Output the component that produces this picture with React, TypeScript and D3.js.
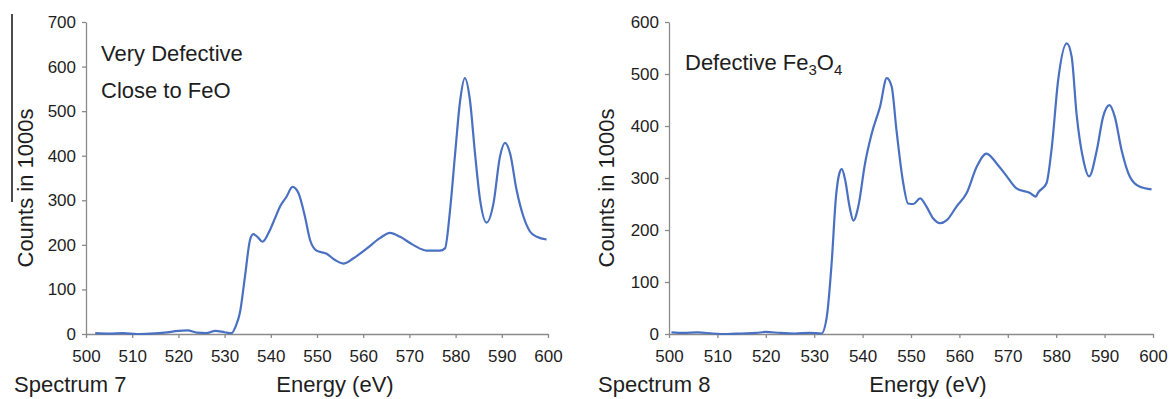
import React, { useEffect, useRef } from 'react'
import * as d3 from 'd3'

// energy (eV), counts in 1000s
const spectrum7: [number, number][] = [
  [502, 2], [505, 1], [508, 2], [511, 0], [514, 1], [517, 3], [520, 7], [522, 8], [524, 3],
  [526, 2], [528, 7], [530, 4], [531.5, 2], [532.5, 20], [533.3, 47], [534.4, 128], [535.5, 211],
  [536.2, 224], [537.1, 218], [538.2, 207], [539.8, 233], [541, 262], [542, 286], [543.4, 308], [544.7, 330],
  [546, 316], [547.4, 263], [548.5, 211], [549.9, 187], [552.1, 180], [553.9, 166], [555.7, 158],
  [557.9, 170], [560.8, 192], [563.6, 215], [565.8, 227], [568, 218], [570.8, 200], [573.7, 187],
  [576.6, 187], [577.7, 192], [578.8, 278], [579.9, 405], [581, 525], [582, 574], [583.1, 525],
  [584.2, 405], [585.3, 301], [586.7, 250], [588.2, 293], [589.6, 398], [590.7, 429], [591.8, 405],
  [593.2, 323], [594.7, 263], [596.1, 230], [597.6, 218], [599.7, 212]
]

const spectrum8: [number, number][] = [
  [500.5, 3], [503, 2], [506, 3], [509, 1], [512, 0], [515, 1], [518, 2], [520, 4], [523, 2],
  [526, 1], [529, 2], [531.5, 1], [532.6, 33], [533.6, 136], [534.5, 264], [535.2, 309],
  [535.7, 317], [536.4, 296], [537.3, 245], [538.1, 218], [539.1, 245], [540.5, 328], [541.9, 386],
  [543.6, 437], [545, 492], [546, 476], [547, 392], [548.4, 290], [549.4, 251], [550.5, 250],
  [551.9, 261], [553.2, 245], [554.6, 222], [556, 213], [557.4, 219], [559.4, 245], [561.5, 271],
  [563.6, 322], [565.6, 347], [567.7, 328], [569.8, 303], [571.8, 280], [574.6, 271], [575.8, 264],
  [576.2, 271], [578, 290], [579.1, 360], [580.4, 488], [582.2, 559], [583.2, 533], [584.2, 424],
  [585.6, 335], [586.8, 303], [588.4, 354], [589.7, 418], [591, 440], [592.1, 418], [593.5, 354],
  [595.2, 303], [597.3, 283], [599.7, 278]
]

const xTicks = [500, 510, 520, 530, 540, 550, 560, 570, 580, 590, 600]
const yTicks7 = [0, 100, 200, 300, 400, 500, 600, 700]
const yTicks8 = [0, 100, 200, 300, 400, 500, 600]

const FONT = '"Liberation Sans", Arial, sans-serif'
const LINE = '#4a70c2'
const AXIS = '#8a8a8a'

const App = () => {
  const svgRef = useRef<SVGSVGElement>(null)

  useEffect(() => {
    const svg = d3.select(svgRef.current)
    svg.selectAll('*').remove()

    const panels = [
      { data: spectrum7, yTicks: yTicks7, yMax: 700, x0: 86, x1: 548, ylab: 33, name: 'Spectrum 7', nameX: 14, energyX: 335 },
      { data: spectrum8, yTicks: yTicks8, yMax: 600, x0: 669, x1: 1153, ylab: 614, name: 'Spectrum 8', nameX: 598, energyX: 928 }
    ]

    panels.forEach(p => {
      const x = d3.scaleLinear().domain([500, 600]).range([p.x0, p.x1])
      const y = d3.scaleLinear().domain([0, p.yMax]).range([334, 22])
      const g = svg.append('g')

      const xAxis = g.append('g')
        .attr('transform', 'translate(0,334)')
        .call(d3.axisBottom(x).tickValues(xTicks).tickSize(4).tickSizeOuter(0).tickPadding(12))
      const yAxis = g.append('g')
        .attr('transform', `translate(${p.x0},0)`)
        .call(d3.axisLeft(y).tickValues(p.yTicks).tickSize(4).tickSizeOuter(0).tickPadding(6))

      ;[xAxis, yAxis].forEach(a => {
        a.select('.domain').attr('stroke', AXIS).attr('stroke-width', 1.3)
        a.selectAll('.tick line').attr('stroke', AXIS).attr('stroke-width', 1.3)
        a.selectAll('.tick text').attr('fill', '#1e1e1e').style('font-size', '17px').style('font-family', FONT)
      })

      const line = d3.line<[number, number]>()
        .x(d => x(d[0]))
        .y(d => y(d[1]))
        .curve(d3.curveMonotoneX)

      g.append('path')
        .datum(p.data)
        .attr('d', line)
        .attr('fill', 'none')
        .attr('stroke', LINE)
        .attr('stroke-width', 2.2)
        .attr('stroke-linejoin', 'round')

      g.append('text')
        .attr('transform', `translate(${p.ylab},188) rotate(-90)`)
        .attr('text-anchor', 'middle')
        .style('font-size', '22px')
        .style('font-family', FONT)
        .attr('fill', '#1e1e1e')
        .text('Counts in 1000s')

      g.append('text')
        .attr('x', p.nameX).attr('y', 392)
        .style('font-size', '22px').style('font-family', FONT).attr('fill', '#1e1e1e')
        .text(p.name)

      g.append('text')
        .attr('x', p.energyX).attr('y', 392)
        .attr('text-anchor', 'middle')
        .style('font-size', '22px').style('font-family', FONT).attr('fill', '#1e1e1e')
        .text('Energy (eV)')
    })

    // annotations
    const ann = svg.append('g').style('font-family', FONT).style('font-size', '22px').attr('fill', '#1e1e1e')
    ann.append('text').attr('x', 101).attr('y', 61).text('Very Defective')
    ann.append('text').attr('x', 101).attr('y', 98).text('Close to FeO')
    const fe = ann.append('text').attr('x', 685).attr('y', 70)
    fe.append('tspan').text('Defective Fe')
    fe.append('tspan').attr('dy', 5).style('font-size', '15px').text('3')
    fe.append('tspan').attr('dy', -5).text('O')
    fe.append('tspan').attr('dy', 5).style('font-size', '15px').text('4')

    // crop edge line at far left
    svg.append('line')
      .attr('x1', 12).attr('x2', 12).attr('y1', 14).attr('y2', 202)
      .attr('stroke', '#111').attr('stroke-width', 1.5)
  }, [])

  return (
    <svg ref={svgRef} width={1172} height={399}
      style={{ position: 'absolute', left: 0, top: 0, background: '#fff' }} />
  )
}

export default App
